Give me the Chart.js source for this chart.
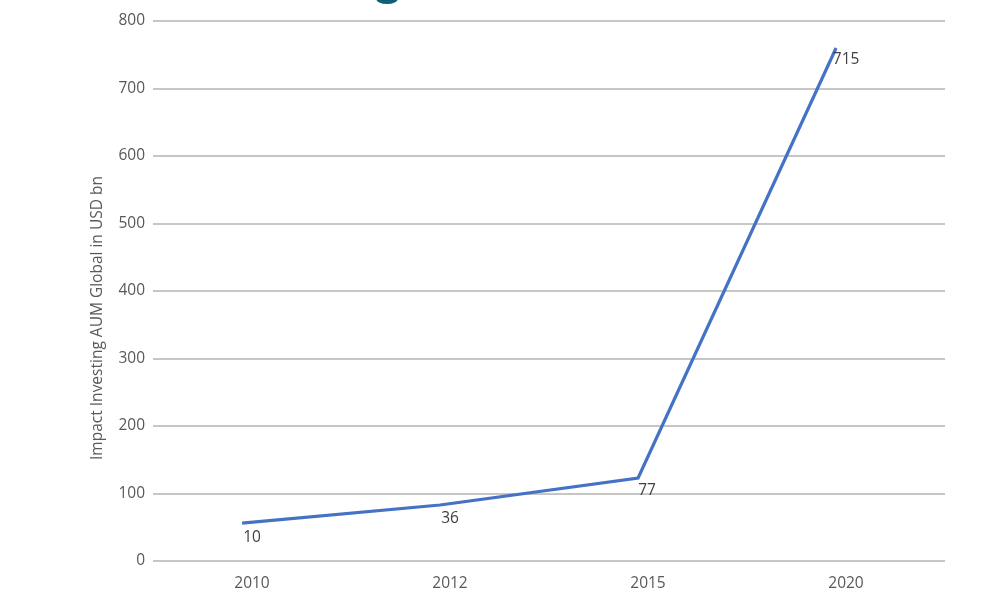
<!DOCTYPE html>
<html>
<head>
<meta charset="utf-8">
<script src="https://cdn.jsdelivr.net/npm/chart.js@4"></script>
<style>
  html, body { margin: 0; padding: 0; background: #fff; overflow: hidden; }
  #wrap { position: relative; width: 997px; height: 610px; }
  #blob { position: absolute; left: 376px; top: -7px; width: 22px; height: 11px; border-radius: 50%; background: #0f5f78; }
</style>
</head>
<body>
<div id="wrap">
  <canvas id="aumChart" width="997" height="610"></canvas>
  <div id="blob"></div>
</div>
<script>
// years on the x axis
var years = ["2010", "2012", "2015", "2020"];
// plotted line heights
var aumValues = [56, 83, 123, 760];
// the labels printed next to each point
var pointLabels = ["10", "36", "77", "715"];
// y tick values
var yTicks = [0, 100, 200, 300, 400, 500, 600, 700, 800];
var yTitle = "Impact Investing AUM Global in USD bn";

var labelOffsets = [[10, 14], [10, 14], [9, 13], [10, 12]];

var pointLabelPlugin = {
  id: "pointLabels",
  afterDatasetsDraw: function (chart) {
    var ctx = chart.ctx;
    var meta = chart.getDatasetMeta(0);
    ctx.save();
    ctx.font = "15.5px 'Open Sans'";
    ctx.fillStyle = "#404040";
    ctx.textAlign = "center";
    ctx.textBaseline = "middle";
    meta.data.forEach(function (pt, i) {
      var off = labelOffsets[i];
      ctx.fillText(pointLabels[i], pt.x + off[0], pt.y + off[1]);
    });
    // y axis title
    ctx.translate(98, 318);
    ctx.rotate(-Math.PI / 2);
    ctx.font = "15.5px 'Open Sans'";
    ctx.fillStyle = "#595959";
    ctx.fillText(yTitle, 0, 0);
    ctx.restore();
  }
};

var ctx = document.getElementById("aumChart").getContext("2d");
var chart = new Chart(ctx, {
  type: "line",
  data: {
    labels: years,
    datasets: [{
      data: aumValues.map(function (v, i) { return { x: i, y: v }; }),
      xAxisID: "xl",
      borderColor: "#4472c4",
      borderWidth: 3.2,
      pointRadius: 0,
      tension: 0,
      fill: false
    }]
  },
  options: {
    responsive: false,
    animation: false,
    layout: { padding: { left: 0, top: 21, right: 52, bottom: 0 } },
    plugins: {
      legend: { display: false },
      tooltip: { enabled: false }
    },
    scales: {
      x: {
        type: "category",
        offset: true,
        grid: { display: false, drawTicks: false },
        border: { display: false },
        ticks: {
          padding: 13,
          color: "#595959",
          font: { family: "'Open Sans'", size: 15.5 }
        },
        afterFit: function (scale) { scale.height = 49; }
      },
      xl: {
        type: "linear",
        display: false,
        min: -0.45,
        max: 3.55
      },
      y: {
        min: 0,
        max: 800,
        afterBuildTicks: function (scale) {
          scale.ticks = yTicks.map(function (v) { return { value: v }; });
        },
        grid: { color: "#c6c6c6", lineWidth: 2, drawTicks: false },
        border: { display: false },
        ticks: {
          padding: 8,
          color: "#595959",
          font: { family: "'Open Sans'", size: 15.5 }
        },
        afterFit: function (scale) { scale.width = 153; }
      }
    }
  },
  plugins: [pointLabelPlugin]
});
</script>
</body>
</html>
